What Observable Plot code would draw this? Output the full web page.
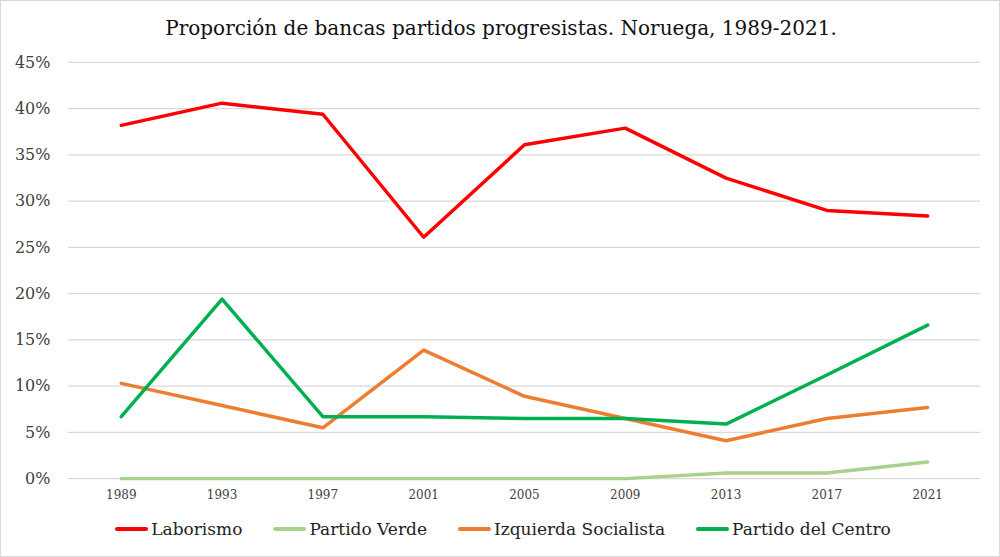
<!DOCTYPE html>
<html>
<head>
<meta charset="utf-8">
<script src="https://cdn.jsdelivr.net/npm/d3@7"></script>
<script src="https://cdn.jsdelivr.net/npm/@observablehq/plot@0.6"></script>
<style>
  html, body { margin: 0; padding: 0; background: #fff; }
  #wrap { position: relative; width: 998px; height: 555px; border: 1px solid #d9d9d9; box-sizing: content-box; overflow: hidden; background:#fff; font-family: "DejaVu Serif", "Liberation Serif", serif; }
  #title { position: absolute; left: 0; top: 15px; width: 1000px; text-align: center; font-size: 20px; color: #111; }
  #chart { position: absolute; left: 0; top: 44px; }
  #legend { position: absolute; left: 0; top: 518px; width: 1004px; display: flex; justify-content: center; gap: 31px; font-size: 17px; color: #222; }
  .item { display: flex; align-items: center; }
  .sw { width: 33px; height: 4px; margin-right: 3px; border-radius: 2px; }
</style>
</head>
<body>
<div id="wrap">
  <div id="title">Proporción de bancas partidos progresistas. Noruega, 1989-2021.</div>
  <div id="chart"></div>
  <div id="legend"></div>
</div>
<script>
const years = ["1989","1993","1997","2001","2005","2009","2013","2017","2021"];
const laborismo = [38.2, 40.6, 39.4, 26.1, 36.1, 37.9, 32.5, 29.0, 28.4];
const partidoVerde = [0, 0, 0, 0, 0, 0, 0.6, 0.6, 1.8];
const izquierdaSocialista = [10.3, 7.9, 5.5, 13.9, 8.9, 6.5, 4.1, 6.5, 7.7];
const partidoCentro = [6.7, 19.4, 6.7, 6.7, 6.5, 6.5, 5.9, 11.2, 16.6];
const seriesNames = ["Laborismo", "Partido Verde", "Izquierda Socialista", "Partido del Centro"];
const seriesColors = ["#ff0000", "#a9d18e", "#ed7d31", "#00b050"];
const yTicks = [0, 5, 10, 15, 20, 25, 30, 35, 40, 45];

const seriesValues = [laborismo, partidoVerde, izquierdaSocialista, partidoCentro];
const rows = [];
seriesNames.forEach((name, i) => {
  years.forEach((yr, j) => rows.push({serie: name, year: yr, value: seriesValues[i][j]}));
});

const chart = Plot.plot({
  width: 1000,
  height: 472,
  marginLeft: 67,
  marginRight: 19,
  marginTop: 17,
  marginBottom: 38,
  style: {fontFamily: '"DejaVu Serif", "Liberation Serif", serif', color: "#404040", background: "transparent"},
  x: {type: "point", domain: years, padding: 0.5},
  y: {domain: [0, 45]},
  color: {domain: seriesNames, range: seriesColors},
  marks: [
    Plot.ruleY(yTicks, {stroke: "#d9d9d9", strokeWidth: 1.3}),
    Plot.axisY({ticks: yTicks, tickFormat: d => d + "%", tickSize: 0, tickPadding: 18, fontSize: 16, label: null}),
    Plot.axisX({tickSize: 0, tickPadding: 12, fontSize: 12, label: null}),
    Plot.line(rows, {x: "year", y: "value", z: "serie", stroke: "serie", strokeWidth: 3.5, strokeLinecap: "round", strokeLinejoin: "round"})
  ]
});
document.getElementById("chart").appendChild(chart);

const legend = document.getElementById("legend");
seriesNames.forEach((name, i) => {
  const it = document.createElement("div");
  it.className = "item";
  const sw = document.createElement("span");
  sw.className = "sw";
  sw.style.background = seriesColors[i];
  const tx = document.createElement("span");
  tx.textContent = name;
  it.appendChild(sw); it.appendChild(tx);
  legend.appendChild(it);
});
</script>
</body>
</html>
